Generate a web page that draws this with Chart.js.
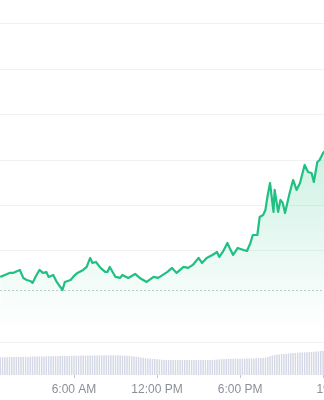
<!DOCTYPE html>
<html>
<head>
<meta charset="utf-8">
<script src="https://cdn.jsdelivr.net/npm/chart.js@4"></script>
<style>
  html, body { margin: 0; padding: 0; background: #fff; }
  .chart-box { width: 324px; height: 400px; position: relative; }
</style>
</head>
<body>
<div class="chart-box"><canvas id="priceChart"></canvas></div>
<script>
// Price (24h), time of day as H:MM
const PRICE_TIMES = ['0:40','1:00','1:20','1:35','1:45','2:05','2:20','2:35','2:50','3:00',
  '3:15','3:30','3:45','4:00','4:10','4:30','4:45','5:10','5:20','5:45',
  '6:00','6:15','6:40','6:55','7:10','7:20','7:35','7:55','8:15','8:25',
  '8:35','9:00','9:20','9:30','9:55','10:25','10:45','11:15','11:45','12:05',
  '12:25','12:45','13:05','13:25','13:55','14:15','14:35','15:00','15:15','15:35',
  '16:00','16:20','16:30','16:45','17:05','17:15','17:30','17:50','18:15','18:30',
  '18:45','18:55','19:15','19:25','19:40','19:50','20:00','20:10','20:25','20:30',
  '20:45','20:55','21:05','21:15','21:35','21:50','22:05','22:20','22:40','22:55',
  '23:10','23:20','23:35','23:45','24:00','24:30'];
const PRICES = [2271.4, 2273.6, 2275.8, 2275.8, 2276.9, 2279.1, 2270.3, 2268.1, 2267.0, 2264.8,
  2272.5, 2279.1, 2275.8, 2276.9, 2271.4, 2273.6, 2265.9, 2257.0, 2265.9, 2268.1,
  2272.5, 2275.8, 2279.1, 2282.4, 2292.3, 2286.8, 2287.9, 2281.3, 2276.9, 2276.9,
  2282.4, 2271.4, 2270.3, 2273.6, 2270.3, 2274.7, 2270.3, 2265.9, 2271.4, 2270.3,
  2273.6, 2276.9, 2281.3, 2275.8, 2282.4, 2281.3, 2284.6, 2292.3, 2286.8, 2292.3,
  2295.6, 2298.9, 2293.4, 2298.9, 2308.8, 2303.3, 2295.6, 2303.3, 2301.1, 2300.0,
  2308.8, 2317.6, 2317.6, 2337.4, 2339.6, 2345.2, 2361.7, 2374.9, 2343.0, 2367.2,
  2343.0, 2356.2, 2352.9, 2341.8, 2363.9, 2378.2, 2367.2, 2374.9, 2394.7, 2387.0,
  2385.9, 2376.0, 2398.0, 2400.2, 2407.9, 2416.7];
const REF_PRICE = 2257.0;
const PRICE_TICKS = [2300, 2350, 2400, 2450, 2500, 2550];

// Volume (billions), one bar every 10 minutes from 0:40
const VOLUME_START = '0:40';
const VOLUME_STEP_MIN = 10;
const VOLUMES = [7.08, 7.12, 7.08, 7.12, 7.16, 7.16, 7.20, 7.20, 7.24, 7.20,
  7.28, 7.28, 7.32, 7.32, 7.36, 7.36, 7.40, 7.40, 7.44, 7.44,
  7.48, 7.48, 7.52, 7.52, 7.56, 7.52, 7.56, 7.60, 7.60, 7.64,
  7.64, 7.68, 7.68, 7.72, 7.72, 7.76, 7.76, 7.76, 7.80, 7.80,
  7.80, 7.84, 7.84, 7.88, 7.88, 7.88, 7.92, 7.88, 7.88, 7.92,
  7.88, 7.88, 7.84, 7.80, 7.76, 7.68, 7.64, 7.56, 7.44, 7.28,
  7.16, 7.04, 6.88, 6.76, 6.64, 6.56, 6.44, 6.36, 6.28, 6.20,
  6.12, 6.08, 6.04, 6.00, 6.00, 6.00, 5.96, 6.00, 6.00, 5.96,
  6.00, 6.04, 6.00, 6.00, 5.96, 6.00, 6.00, 6.04, 6.00, 6.00,
  6.04, 6.00, 6.04, 6.08, 6.16, 6.24, 6.32, 6.40, 6.44, 6.44,
  6.48, 6.48, 6.52, 6.52, 6.52, 6.56, 6.56, 6.60, 6.60, 6.64,
  6.64, 6.68, 6.72, 6.76, 6.80, 6.96, 7.20, 7.48, 7.76, 8.00,
  8.16, 8.24, 8.32, 8.40, 8.48, 8.60, 8.68, 8.76, 8.84, 8.92,
  9.00, 9.04, 9.08, 9.12, 9.16, 9.24, 9.32, 9.40, 9.48, 9.56,
  9.68, 9.72];

// x axis ticks
const TICK_TIMES = ['6:00', '12:00', '18:00', '24:00'];
const TICK_LABELS = ['6:00 AM', '12:00 PM', '6:00 PM', '19'];

const COLORS = {
  line: '#20c083',
  grid: '#f1f2f4',
  ref: '#c9cbd0',
  volume: '#d4d8e5',
  tick: '#c4c7cf',
  label: '#8b8f98'
};

function toMinutes(t) {
  const [h, m] = t.split(':').map(Number);
  return h * 60 + m;
}

const priceData = PRICE_TIMES.map((t, i) => ({ x: toMinutes(t), y: PRICES[i] }));
const volStart = toMinutes(VOLUME_START);
const volumeData = VOLUMES.map((v, i) => ({ x: volStart + i * VOLUME_STEP_MIN, y: v }));

// dotted reference line at the opening price
const refLine = {
  id: 'refLine',
  beforeDatasetsDraw(chart) {
    const { ctx, chartArea, scales } = chart;
    const y = Math.round(scales.y.getPixelForValue(REF_PRICE)) + 0.5;
    ctx.save();
    ctx.strokeStyle = COLORS.ref;
    ctx.lineWidth = 1;
    ctx.setLineDash([2, 2]);
    ctx.beginPath();
    ctx.moveTo(chartArea.left, y);
    ctx.lineTo(chartArea.right, y);
    ctx.stroke();
    ctx.restore();
  }
};

const ctx = document.getElementById('priceChart').getContext('2d');
new Chart(ctx, {
  data: {
    datasets: [{
      type: 'line',
      data: priceData,
      yAxisID: 'y',
      borderColor: COLORS.line,
      borderWidth: 2.2,
      borderJoinStyle: 'round',
      pointRadius: 0,
      tension: 0,
      fill: 'start',
      backgroundColor: function(c) {
        const area = c.chart.chartArea;
        if (!area) return 'rgba(32,192,131,0.1)';
        const g = c.chart.ctx.createLinearGradient(0, 150, 0, 330);
        g.addColorStop(0, 'rgba(32,192,131,0.22)');
        g.addColorStop(1, 'rgba(32,192,131,0)');
        return g;
      }
    }, {
      type: 'bar',
      data: volumeData,
      yAxisID: 'yv',
      backgroundColor: COLORS.volume,
      barPercentage: 0.9,
      categoryPercentage: 0.7
    }]
  },
  plugins: [refLine],
  options: {
    responsive: true,
    maintainAspectRatio: false,
    animation: false,
    layout: { padding: 0, autoPadding: false },
    plugins: { legend: { display: false }, tooltip: { enabled: false } },
    scales: {
      x: {
        type: 'linear',
        offset: false,
        min: 39,
        max: 1444,
        afterBuildTicks: s => { s.ticks = TICK_TIMES.map(t => ({ value: toMinutes(t) })); },
        afterFit: s => { s.height = 25; s.paddingLeft = 0; s.paddingRight = 0; },
        border: { display: false },
        grid: { drawOnChartArea: false, drawTicks: true, tickLength: 3, color: COLORS.tick, offset: false },
        ticks: {
          autoSkip: false,
          maxRotation: 0,
          padding: 4,
          color: COLORS.label,
          font: { family: 'Liberation Sans, Arial, sans-serif', size: 12 },
          callback: (v, i) => TICK_LABELS[i]
        }
      },
      y: {
        position: 'left',
        min: 2163.4,
        max: 2576.4,
        afterBuildTicks: s => { s.ticks = PRICE_TICKS.map(v => ({ value: v })); },
        afterFit: s => { s.width = 0; },
        border: { display: false },
        grid: { color: COLORS.grid, drawTicks: false },
        ticks: { display: false }
      },
      yv: {
        position: 'right',
        min: 0,
        max: 150,
        afterBuildTicks: s => { s.ticks = [{ value: 13.2 }]; },
        afterFit: s => { s.width = 0; },
        border: { display: false },
        grid: { color: COLORS.grid, drawTicks: false },
        ticks: { display: false }
      }
    }
  }
});
</script>
</body>
</html>
